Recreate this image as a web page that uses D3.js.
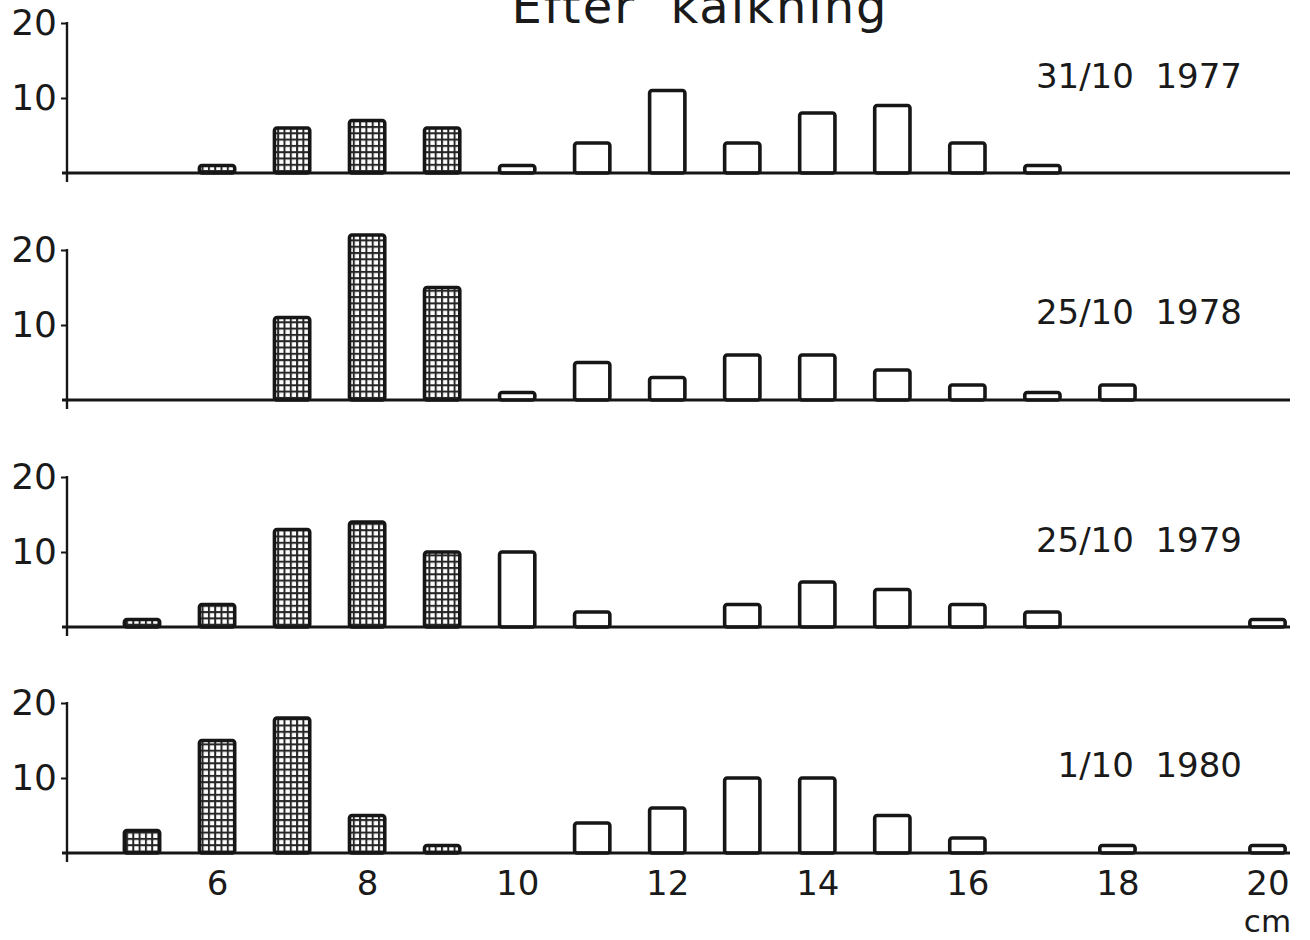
<!DOCTYPE html>
<html>
<head>
<meta charset="utf-8">
<script src="https://cdn.jsdelivr.net/npm/d3@7"></script>
<style>
  html, body { margin: 0; padding: 0; background: #fff; }
  svg { display: block; }
  text { font-family: "DejaVu Sans", sans-serif; fill: #1a1a1a; white-space: pre; }
</style>
</head>
<body>
<svg id="chart" width="1310" height="940"></svg>
<script>
// ---- data ----
const title = "Efter  kalkning";
const dates = ["31/10  1977", "25/10  1978", "25/10  1979", "1/10  1980"];
const sizes = [5, 6, 7, 8, 9, 10, 11, 12, 13, 14, 15, 16, 17, 18, 19, 20]; // cm classes
const counts1977 = [0, 1, 6, 7, 6, 1, 4, 11, 4, 8, 9, 4, 1, 0, 0, 0];
const counts1978 = [0, 0, 11, 22, 15, 1, 5, 3, 6, 6, 4, 2, 1, 2, 0, 0];
const counts1979 = [1, 3, 13, 14, 10, 10, 2, 0, 3, 6, 5, 3, 2, 0, 0, 1];
const counts1980 = [3, 15, 18, 5, 1, 0, 4, 6, 10, 10, 5, 2, 0, 1, 0, 1];
const yTicks = [10, 20];
const xTicks = [6, 8, 10, 12, 14, 16, 18, 20];
const xUnit = "cm";
const hatchBelow = 10; // classes below this size are drawn hatched

const panels = [counts1977, counts1978, counts1979, counts1980];

// ---- layout ----
const svg = d3.select("#chart");
const baselines = [173, 400, 627, 853];
const labelOffsets = [85, 76, 75, 76];
const panelH = 150;
const ink = "#161616";

const x = d3.scaleLinear().domain([4, 20.3]).range([67, 1290]);
const barW = 0.47;

// hatch pattern
const defs = svg.append("defs");
const pat = defs.append("pattern")
  .attr("id", "grid").attr("patternUnits", "userSpaceOnUse")
  .attr("width", 6.3).attr("height", 6.3);
pat.append("rect").attr("width", 6.3).attr("height", 6.3).attr("fill", "#fff");
pat.append("path").attr("d", "M0,1H6.3M1,0V6.3")
  .attr("stroke", "#262626").attr("stroke-width", 2);

// title (cut by the top edge, as in the original)
svg.append("text")
  .attr("x", 700).attr("y", 23)
  .attr("text-anchor", "middle")
  .attr("font-size", 48)
  .attr("letter-spacing", 2)
  .text(title);

panels.forEach((vals, i) => {
  const b = baselines[i];
  const y = d3.scaleLinear().domain([0, 20]).range([b, b - panelH]);
  const g = svg.append("g");

  // y axis
  const yAxis = d3.axisLeft(y).tickValues(yTicks).tickSize(6).tickPadding(4);
  const ya = g.append("g").attr("transform", `translate(${x(4)},0)`).call(yAxis);
  ya.select(".domain").remove();
  ya.selectAll(".tick line").attr("stroke", ink).attr("stroke-width", 2);
  ya.selectAll(".tick text")
    .attr("font-size", 36).attr("font-family", "DejaVu Sans").attr("fill", ink);
  g.append("line")
    .attr("x1", x(4)).attr("x2", x(4))
    .attr("y1", y(20) - 1).attr("y2", b + 9)
    .attr("stroke", ink).attr("stroke-width", 2.4);

  // bars
  const data = sizes.map((s, k) => ({ s, v: vals[k] })).filter(d => d.v > 0);
  g.selectAll("rect.bar").data(data).join("rect")
    .attr("class", "bar")
    .attr("x", d => x(d.s - barW / 2))
    .attr("width", d => x(d.s + barW / 2) - x(d.s - barW / 2))
    .attr("y", d => y(d.v))
    .attr("height", d => y(0) - y(d.v))
    .attr("rx", 2.5).attr("ry", 2.5)
    .attr("fill", d => d.s < hatchBelow ? "url(#grid)" : "#fff")
    .attr("stroke", ink).attr("stroke-width", 3.6);

  // baseline (x axis line)
  g.append("line")
    .attr("x1", x(4) - 5).attr("x2", x(20.3))
    .attr("y1", b).attr("y2", b)
    .attr("stroke", ink).attr("stroke-width", 3);

  // date label
  g.append("text")
    .attr("x", 1242).attr("y", b - labelOffsets[i])
    .attr("text-anchor", "end")
    .attr("font-size", 34)
    .text(dates[i]);

  // x axis labels on the last panel
  if (i === panels.length - 1) {
    const xAxis = d3.axisBottom(x).tickValues(xTicks).tickSize(0).tickPadding(18);
    const xa = g.append("g").attr("transform", `translate(0,${b})`).call(xAxis);
    xa.select(".domain").remove();
    xa.selectAll(".tick text")
      .attr("font-size", 34).attr("font-family", "DejaVu Sans").attr("fill", ink);
    g.append("text")
      .attr("x", x(20)).attr("y", 932)
      .attr("text-anchor", "middle")
      .attr("font-size", 31)
      .text(xUnit);
  }
});
</script>
</body>
</html>
